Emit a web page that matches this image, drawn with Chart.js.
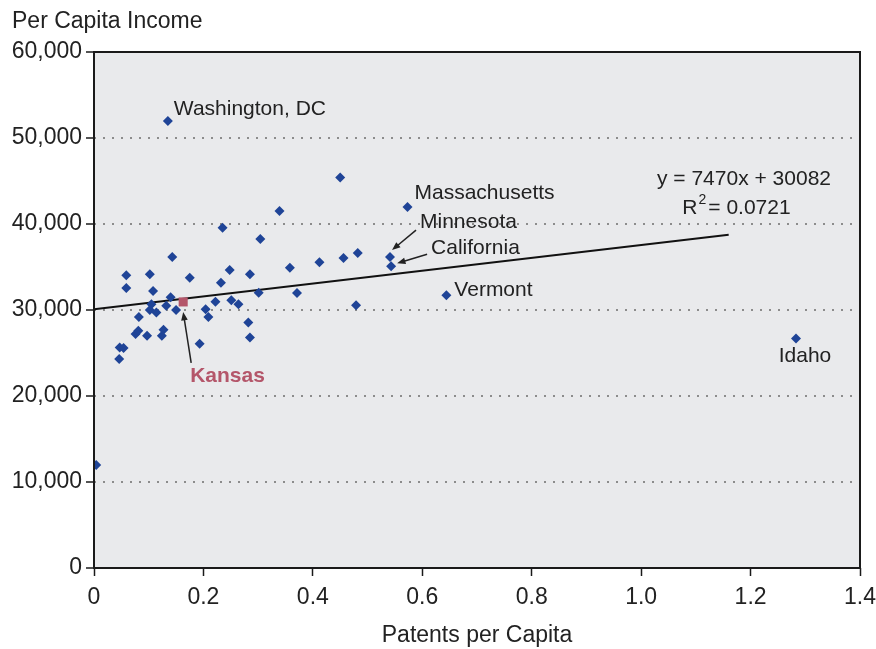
<!DOCTYPE html>
<html>
<head>
<meta charset="utf-8">
<script src="https://cdn.jsdelivr.net/npm/chart.js@4.4.0/dist/chart.umd.min.js"></script>
<style>
  html, body { margin: 0; padding: 0; background: #fff; }
  canvas { display: block; }
</style>
</head>
<body>
<canvas id="patentsChart" width="876" height="649"></canvas>
<script>
// states + DC (Kansas kept separately)
const patentsPerCapita = [
  0.004, 0.046, 0.047, 0.054, 0.059, 0.059, 0.076, 0.081, 0.082, 0.097,
  0.102, 0.102, 0.105, 0.108, 0.114, 0.124, 0.127, 0.132, 0.135, 0.140,
  0.143, 0.150, 0.175, 0.193, 0.204, 0.209, 0.222, 0.232, 0.235, 0.248,
  0.251, 0.264, 0.282, 0.285, 0.285, 0.301, 0.304, 0.339, 0.358, 0.371,
  0.412, 0.450, 0.456, 0.479, 0.482, 0.541, 0.543, 0.573, 0.644, 1.283
];
const perCapitaIncome = [
  11970, 24300, 25640, 25570, 34030, 32550, 27200, 27580, 29180, 27000,
  34150, 30010, 30670, 32210, 29700, 27000, 27690, 30500, 51990, 31480,
  36150, 30000, 33750, 26070, 30090, 29200, 30970, 33180, 39550, 34650,
  31130, 30670, 28540, 34150, 26800, 32020, 38270, 41520, 34920, 31980,
  35540, 45420, 36040, 30560, 36620, 36150, 35080, 41980, 31710, 26690
];
const kansasPatents = [0.163];
const kansasIncome = [30940];

const calloutNames = ['Washington, DC', 'Massachusetts', 'Minnesota', 'California', 'Vermont', 'Idaho'];
const calloutIndex = [18, 47, 45, 46, 48, 49];

const trendSlope = 7470;
const trendIntercept = 30082;
const trendRange = [0, 1.16];

const xTickLabels = ['0', '0.2', '0.4', '0.6', '0.8', '1.0', '1.2', '1.4'];
const yTickLabels = ['0', '10,000', '20,000', '30,000', '40,000', '50,000', '60,000'];

const FONT = '"Liberation Sans", Arial, sans-serif';
const TEXT = '#222222';
const KANSAS = '#b4566a';

// label placement, pixel offsets from the point
const calloutStyle = {
  'Washington, DC': { dx: 6, dy: -12, align: 'left' },
  'Massachusetts': { dx: 7, dy: -14, align: 'left' },
  'Minnesota': { dx: 30, dy: -35, align: 'left', arrow: [26, -27, 2, -7] },
  'California': { dx: 40, dy: -18, align: 'left', arrow: [36, -12, 6, -3] },
  'Vermont': { dx: 8, dy: -5, align: 'left' },
  'Idaho': { dx: 9, dy: 18, align: 'center' }
};

function drawArrow(ctx, x1, y1, x2, y2) {
  const ang = Math.atan2(y2 - y1, x2 - x1);
  const head = 9;
  ctx.beginPath();
  ctx.moveTo(x1, y1);
  ctx.lineTo(x2 - Math.cos(ang) * head * 0.8, y2 - Math.sin(ang) * head * 0.8);
  ctx.stroke();
  ctx.beginPath();
  ctx.moveTo(x2, y2);
  ctx.lineTo(x2 - head * Math.cos(ang - 0.38), y2 - head * Math.sin(ang - 0.38));
  ctx.lineTo(x2 - head * Math.cos(ang + 0.38), y2 - head * Math.sin(ang + 0.38));
  ctx.closePath();
  ctx.fill();
}

const chartDecor = {
  id: 'chartDecor',
  beforeDraw(chart) {
    const { ctx, chartArea: a } = chart;
    ctx.save();
    ctx.fillStyle = '#e9eaec';
    ctx.fillRect(a.left, a.top, a.right - a.left, a.bottom - a.top);
    ctx.restore();
  },
  afterDraw(chart) {
    const { ctx, chartArea: a, scales: { x, y } } = chart;
    ctx.save();
    ctx.strokeStyle = '#1a1a1a';
    ctx.lineWidth = 2;
    ctx.strokeRect(a.left, a.top, a.right - a.left, a.bottom - a.top);

    // axis titles
    ctx.fillStyle = TEXT;
    ctx.font = '23px ' + FONT;
    ctx.textBaseline = 'middle';
    ctx.textAlign = 'left';
    ctx.fillText('Per Capita Income', 12, 22);
    ctx.textAlign = 'center';
    ctx.fillText('Patents per Capita', (a.left + a.right) / 2, 636);

    // callouts
    ctx.font = '21px ' + FONT;
    ctx.lineWidth = 1.5;
    ctx.strokeStyle = TEXT;
    calloutNames.forEach((name, i) => {
      const k = calloutIndex[i];
      const px = x.getPixelForValue(patentsPerCapita[k]);
      const py = y.getPixelForValue(perCapitaIncome[k]);
      const s = calloutStyle[name];
      ctx.textAlign = s.align;
      ctx.fillText(name, px + s.dx, py + s.dy);
      if (s.arrow) {
        drawArrow(ctx, px + s.arrow[0], py + s.arrow[1], px + s.arrow[2], py + s.arrow[3]);
      }
    });

    // Kansas
    const kx = x.getPixelForValue(kansasPatents[0]);
    const ky = y.getPixelForValue(kansasIncome[0]);
    drawArrow(ctx, kx + 8, ky + 61, kx, ky + 10);
    ctx.fillStyle = KANSAS;
    ctx.font = 'bold 21px ' + FONT;
    ctx.textAlign = 'left';
    ctx.fillText('Kansas', kx + 7, ky + 74);

    // regression equation
    ctx.fillStyle = TEXT;
    ctx.font = '21px ' + FONT;
    ctx.textAlign = 'center';
    ctx.fillText('y = ' + trendSlope + 'x + ' + trendIntercept, a.left + 650, a.top + 127);
    const r1 = 'R', r2 = '2', r3 = '= 0.0721';
    ctx.textAlign = 'left';
    const w1 = ctx.measureText(r1).width;
    const w3 = ctx.measureText(r3).width;
    ctx.font = '14px ' + FONT;
    const w2 = ctx.measureText(r2).width;
    let sx = a.left + 642 - (w1 + w2 + w3 + 2) / 2;
    const sy = a.top + 156;
    ctx.font = '21px ' + FONT;
    ctx.fillText(r1, sx, sy);
    ctx.font = '14px ' + FONT;
    ctx.fillText(r2, sx + w1 + 1, sy - 8);
    ctx.font = '21px ' + FONT;
    ctx.fillText(r3, sx + w1 + w2 + 3, sy);
    ctx.restore();
  }
};

const ctx = document.getElementById('patentsChart').getContext('2d');
new Chart(ctx, {
  type: 'scatter',
  data: {
    datasets: [
      {
        label: 'States',
        data: patentsPerCapita.map((v, i) => ({ x: v, y: perCapitaIncome[i] })),
        pointStyle: 'rectRot',
        pointRadius: 5,
        backgroundColor: '#1f4497',
        borderColor: '#1f4497',
        borderWidth: 0
      },
      {
        label: 'Kansas',
        data: kansasPatents.map((v, i) => ({ x: v, y: kansasIncome[i] })),
        pointStyle: 'rect',
        pointRadius: 6.4,
        backgroundColor: KANSAS,
        borderColor: KANSAS,
        borderWidth: 0
      },
      {
        label: 'Trend',
        type: 'line',
        data: trendRange.map(v => ({ x: v, y: trendSlope * v + trendIntercept })),
        borderColor: '#111111',
        borderWidth: 2,
        pointRadius: 0,
        fill: false
      }
    ]
  },
  options: {
    responsive: false,
    animation: false,
    events: [],
    layout: { padding: { top: 52, right: 16, left: 0, bottom: 0 } },
    plugins: {
      legend: { display: false },
      tooltip: { enabled: false }
    },
    scales: {
      x: {
        type: 'linear',
        min: 0,
        max: 1.4,
        afterFit: s => { s.height = 81; s.paddingRight = 0; s.paddingLeft = 0; },
        ticks: {
          stepSize: 0.2,
          padding: 8,
          color: TEXT,
          font: { family: FONT, size: 23 },
          maxRotation: 0,
          callback: (v, i) => xTickLabels[i]
        },
        grid: {
          drawOnChartArea: false,
          drawTicks: true,
          tickLength: 8,
          tickColor: '#1a1a1a',
          tickWidth: 1.5
        },
        border: { display: false }
      },
      y: {
        min: 0,
        max: 60000,
        afterFit: s => { s.width = 94; },
        ticks: {
          stepSize: 10000,
          padding: 4,
          color: TEXT,
          font: { family: FONT, size: 23 },
          callback: (v, i) => yTickLabels[i]
        },
        grid: {
          color: c => (c.tick && (c.tick.value === 0 || c.tick.value === 60000)) ? 'rgba(0,0,0,0)' : '#8c8c8c',
          lineWidth: 2,
          drawTicks: true,
          tickLength: 8,
          tickColor: '#1a1a1a',
          tickWidth: 1.5,
          tickBorderDash: []
        },
        border: { display: false, dash: [2, 7] }
      }
    }
  },
  plugins: [chartDecor]
});
</script>
</body>
</html>
